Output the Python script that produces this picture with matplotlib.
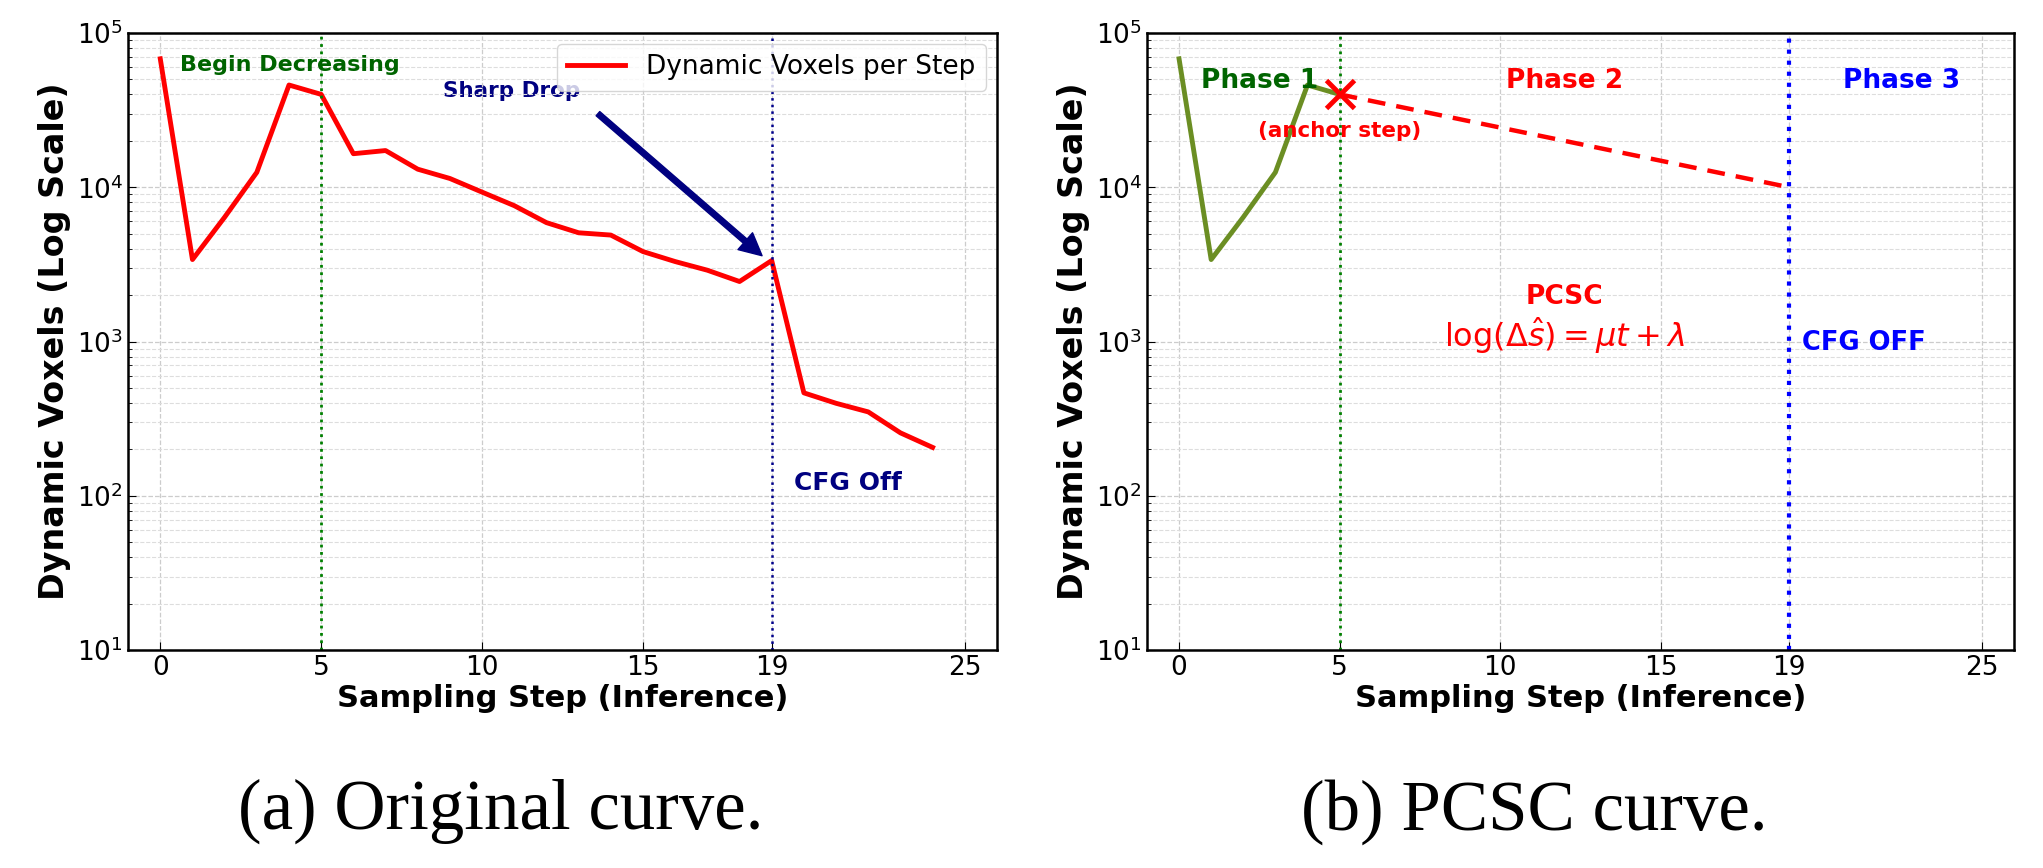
import numpy as np
import matplotlib
matplotlib.use("Agg")
from matplotlib import pyplot as plt

# data
steps = list(range(25))
voxels = [68000, 3400, 6400, 12500, 46000, 40000, 16500, 17300, 13100, 11400,
          9300, 7600, 5900, 5070, 4900, 3830, 3300, 2900, 2450, 3350,
          465, 398, 350, 256, 206]
phase1_steps = steps[:6]
phase1_voxels = voxels[:6]
anchor_step = 5
cfg_step = 19
pcsc_steps = [5, 19]
pcsc_voxels = [40000, 10000]
xticks = [0, 5, 10, 15, 19, 25]


def style_axes(ax):
  ax.set_yscale("log")
  ax.set_ylim(10, 1e5)
  ax.set_xlim(-1, 26)
  ax.set_xticks(xticks)
  ax.grid(True, which="major", linestyle="--", color="#cccccc", linewidth=0.9)
  ax.grid(True, which="minor", axis="y", linestyle="--", color="#dddddd", linewidth=0.8)
  ax.tick_params(which="both", direction="in", labelsize=19)
  ax.tick_params(which="major", length=6)
  ax.tick_params(which="minor", length=3)
  for s in ax.spines.values():
    s.set_linewidth(1.8)
  ax.set_xlabel("Sampling Step (Inference)", fontsize=22, fontweight="bold", labelpad=2)
  ax.set_ylabel("Dynamic Voxels (Log Scale)", fontsize=24, fontweight="bold", labelpad=4)


fig = plt.figure(figsize=(20.43, 8.68), dpi=100)
ax1 = fig.add_axes([0.0627, 0.251, 0.4253, 0.711])
ax2 = fig.add_axes([0.5614, 0.251, 0.4244, 0.711])

# (a) original curve
ax1.plot(steps, voxels, color="red", linewidth=3.5, label="Dynamic Voxels per Step")
ax1.axvline(anchor_step, color="green", linestyle=":", linewidth=2)
ax1.axvline(cfg_step, color="darkblue", linestyle=":", linewidth=1.8)
ax1.text(0.6, 6.2e4, "Begin Decreasing", color="darkgreen", fontsize=16,
         fontweight="bold", va="center", ha="left")
ax1.text(8.8, 4.2e4, "Sharp Drop", color="navy", fontsize=15.5,
         fontweight="bold", va="center", ha="left", zorder=1)
ax1.annotate("", xy=(18.7, 3600), xytext=(13.6, 3.0e4),
             arrowprops=dict(facecolor="navy", edgecolor="navy", width=4,
                             headwidth=16, headlength=16))
ax1.text(19.7, 122, "CFG Off", color="navy", fontsize=18,
         fontweight="bold", va="center", ha="left")
style_axes(ax1)
leg = ax1.legend(loc="upper right", fontsize=19, framealpha=0.8,
                 handlelength=2.2, borderaxespad=0.4)
leg.set_zorder(5)

# (b) PCSC curve
ax2.plot(phase1_steps, phase1_voxels, color="olivedrab", linewidth=3.5)
ax2.plot(pcsc_steps, pcsc_voxels, color="red", linestyle="--", linewidth=3.2,
         dashes=(4, 2.5))
ax2.plot([anchor_step], [pcsc_voxels[0]], marker="x", color="red",
         markersize=20, markeredgewidth=3.5, zorder=6)
ax2.axvline(anchor_step, color="green", linestyle=":", linewidth=2)
ax2.axvline(cfg_step, color="blue", linestyle=":", linewidth=3)
ax2.text(2.5, 4.9e4, "Phase 1", color="darkgreen", fontsize=19,
         fontweight="bold", ha="center", va="center")
ax2.text(12, 4.9e4, "Phase 2", color="red", fontsize=19,
         fontweight="bold", ha="center", va="center")
ax2.text(22.5, 4.9e4, "Phase 3", color="blue", fontsize=19,
         fontweight="bold", ha="center", va="center")
ax2.text(5, 2.3e4, "(anchor step)", color="red", fontsize=15.5,
         fontweight="bold", ha="center", va="center")
ax2.text(12, 1950, "PCSC", color="red", fontsize=19,
         fontweight="bold", ha="center", va="center")
ax2.text(12, 1100, r"$\log(\Delta\hat{s}) = \mu t + \lambda$", color="red",
         fontsize=23, ha="center", va="center")
ax2.text(19.4, 980, "CFG OFF", color="blue", fontsize=18.5,
         fontweight="bold", ha="left", va="center")
style_axes(ax2)

fig.text(0.245, 0.065, "(a) Original curve.", fontsize=51,
         family="Liberation Serif", ha="center", va="center")
fig.text(0.751, 0.065, "(b) PCSC curve.", fontsize=51,
         family="Liberation Serif", ha="center", va="center")

fig.savefig("out.png", dpi=100)
